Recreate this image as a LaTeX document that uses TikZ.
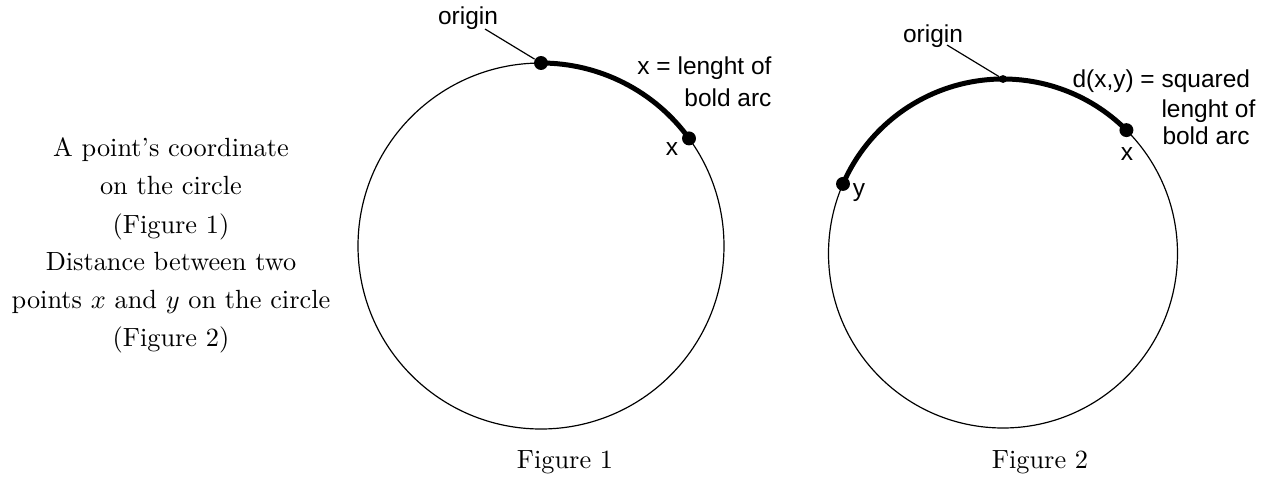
\documentclass[tikz,border=0pt]{standalone}
\usepackage{fontspec}
\newfontfamily\labfont{Liberation Sans}
\begin{document}
\begin{tikzpicture}[x=0.38pt,y=0.38pt,
  thin circle/.style={line width=0.45pt},
  bold arc/.style={line width=1.9pt},
  bigdot/.style={circle,fill=black,inner sep=0pt,minimum size=5.3pt},
  smalldot/.style={circle,fill=black,inner sep=0pt,minimum size=3pt},
  lab/.style={font=\labfont\fontsize{9.3}{11}\selectfont,inner sep=0pt},
  serif/.style={font=\fontsize{10}{12}\selectfont,inner sep=0pt},
  leader/.style={line width=0.45pt}]
\useasboundingbox (0,0) rectangle (1274,477);
% left text
\node[serif,anchor=base] (t1) at (171,321) {A point's coordinate};
\node[serif,anchor=base] (t2) at (171,283) {on the circle};
\node[serif,anchor=base] (t3) at (171,244) {(Figure 1)};
\node[serif,anchor=base] (t4) at (171,207) {Distance between two};
\node[serif,anchor=base] (t5) at (171,169) {points $x$ and $y$ on the circle};
\node[serif,anchor=base] (t6) at (171,131) {(Figure 2)};
% Figure 1
\coordinate (c1) at (541,231);
\draw[thin circle] (c1) circle[radius=183];
\draw[bold arc] (541,414) arc[start angle=90,end angle=36,radius=183];
\node[bigdot] (o1) at (541,414) {};
\node[bigdot] (x1) at (689,338.6) {};
\node[lab,anchor=base] (ol1) at (468,453) {origin};
\coordinate (ol1e) at (485,448);
\draw[leader] (ol1e) -- (o1);
\node[lab] (xl1) at (672,328) {x};
\node[lab,anchor=base east] (d1a) at (772,403) {x = lenght of};
\node[lab,anchor=base east] (d1b) at (772,371) {bold arc};
\node[serif,anchor=base] (f1) at (565,9) {Figure 1};
% Figure 2
\coordinate (c2) at (1003,223.5);
\draw[thin circle] (c2) circle[radius=174.5];
\draw[bold arc] (843,293.1) arc[start angle=156.5,end angle=45,radius=174.5];
\node[smalldot] (o2) at (1003,398) {};
\node[bigdot] (x2) at (1126.4,346.9) {};
\node[bigdot] (y2) at (843,293.1) {};
\node[lab,anchor=base] (ol2) at (933,435) {origin};
\coordinate (ol2e) at (947,432);
\draw[leader] (ol2e) -- (o2);
\node[lab] (xl2) at (1127,323) {x};
\node[lab] (yl2) at (859,284) {y};
\node[lab,anchor=base west] (d2a) at (1072,390) {d(x,y) = squared};
\node[lab,anchor=base west] (d2b) at (1161,360) {lenght of};
\node[lab,anchor=base west] (d2c) at (1162,333) {bold arc};
\node[serif,anchor=base] (f2) at (1040,9) {Figure 2};
\end{tikzpicture}
\end{document}
